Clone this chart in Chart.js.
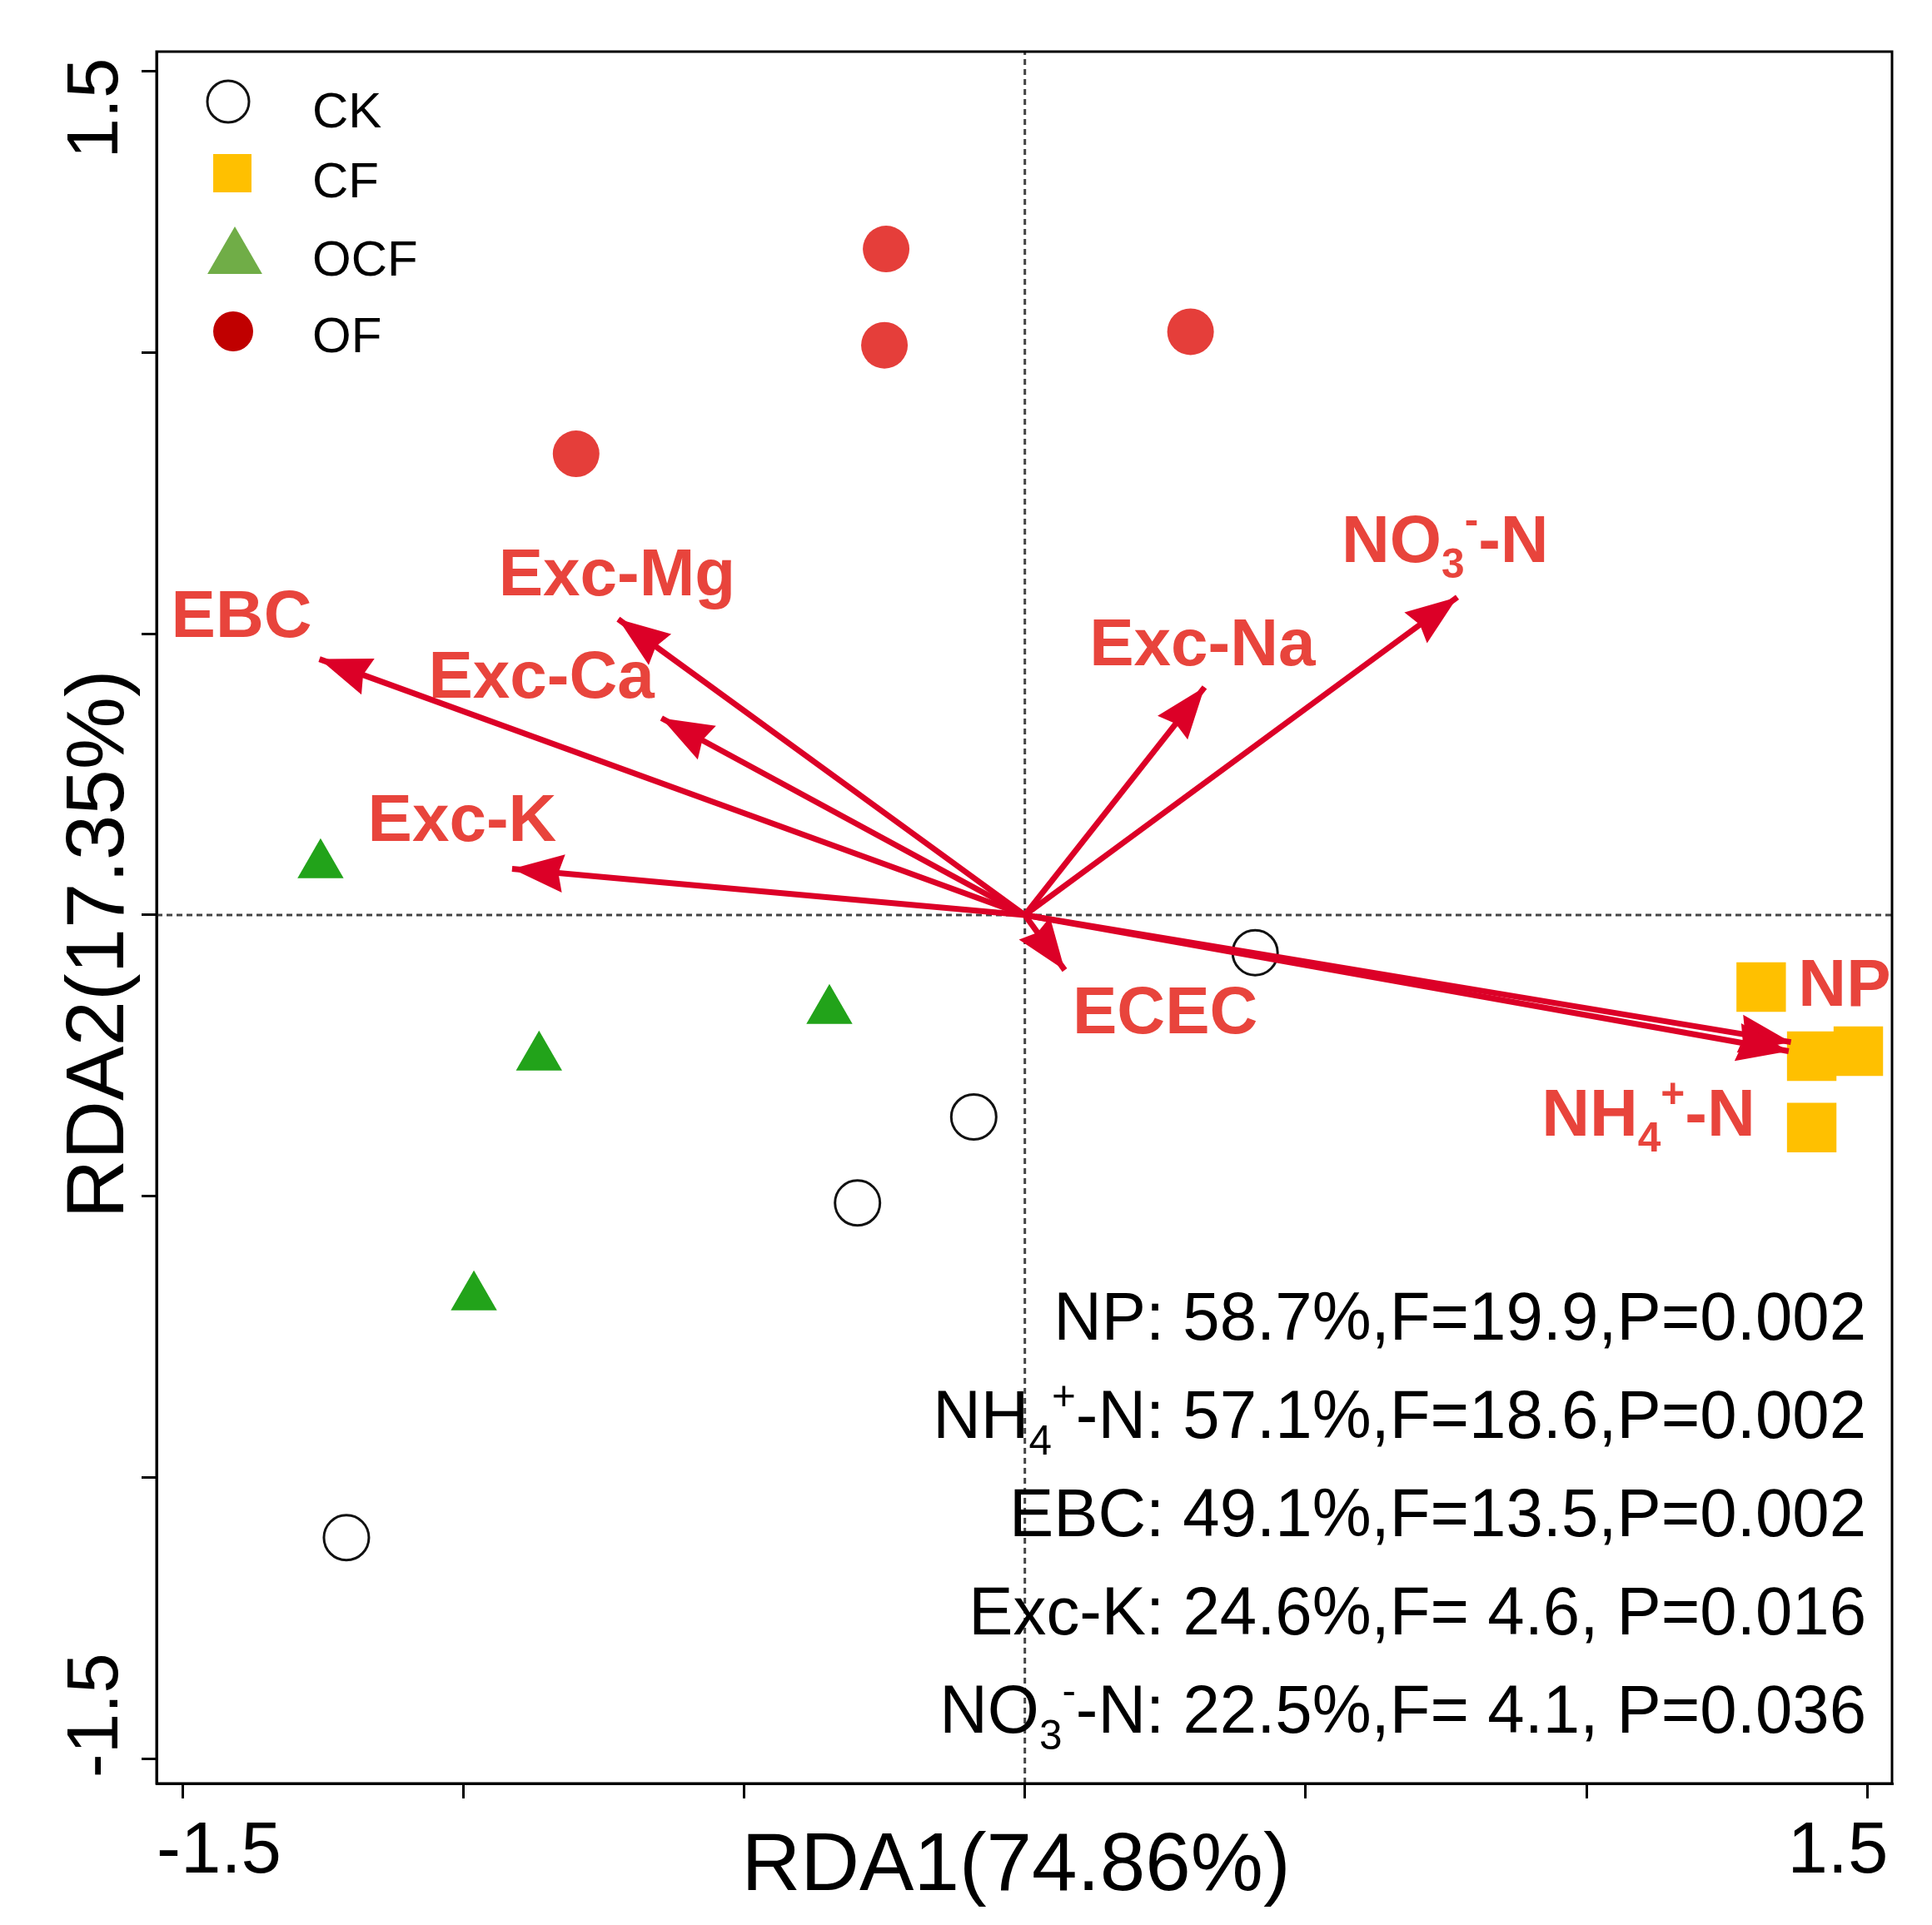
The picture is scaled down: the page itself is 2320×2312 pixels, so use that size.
<!DOCTYPE html>
<html>
<head>
<meta charset="utf-8">
<script src="https://cdn.jsdelivr.net/npm/chart.js@4.4.1/dist/chart.umd.min.js"></script>
<style>
  body { margin: 0; background: #fff; }
  #wrap { width: 2320px; height: 2312px; }
</style>
</head>
<body>
<div id="wrap"><canvas id="rda" width="2320" height="2312"></canvas></div>
<script>
// sample scores (RDA1, RDA2)
const ckX = [0.410, -0.091, -0.298, -1.208];
const ckY = [-0.067, -0.359, -0.512, -1.107];
const cfX = [1.311, 1.401, 1.484, 1.401];
const cfY = [-0.128, -0.251, -0.242, -0.378];
const ocfX = [-1.254, -0.865, -0.348, -0.981];
const ocfY = [0.089, -0.253, -0.170, -0.679];
const ofX = [-0.247, -0.250, 0.295, -0.799];
const ofY = [1.184, 1.013, 1.037, 0.820];

// environmental vectors
const envNames = ['EBC', 'Exc-Mg', 'Exc-Ca', 'Exc-K', 'Exc-Na', 'NO3-N', 'ECEC', 'NP', 'NH4-N'];
const envX = [-1.256, -0.724, -0.647, -0.913, 0.320, 0.770, 0.071, 1.364, 1.360];
const envY = [0.455, 0.526, 0.350, 0.082, 0.405, 0.565, -0.098, -0.226, -0.242];

const axisTicks = [-1.5, -1.0, -0.5, 0, 0.5, 1.0, 1.5];
const xTitle = 'RDA1(74.86%)';
const yTitle = 'RDA2(17.35%)';

// significance table (rows of rich text)
const statRows = [
  ['NP: 58.7%,F=19.9,P=0.002'],
  ['NH', {sub: '4'}, {sup: '+'}, '-N: 57.1%,F=18.6,P=0.002'],
  ['EBC: 49.1%,F=13.5,P=0.002'],
  ['Exc-K: 24.6%,F= 4.6, P=0.016'],
  ['NO', {sub: '3'}, {sup: '-'}, '-N: 22.5%,F= 4.1, P=0.036']
];

const FONT = '"Liberation Sans", Arial, sans-serif';
const ARROW = '#DC0027';
const LABEL = '#E8443C';

// label text for each vector and where it sits (data units, left/baseline)
const envLabels = [
  ['EBC'], ['Exc-Mg'], ['Exc-Ca'], ['Exc-K'], ['Exc-Na'],
  ['NO', {sub: '3'}, {sup: '-'}, '-N'], ['ECEC'], ['NP'],
  ['NH', {sub: '4'}, {sup: '+'}, '-N']
];
const labelAt = [
  [-1.520, 0.495], [-0.937, 0.569], [-1.062, 0.387], [-1.170, 0.131],
  [0.115, 0.444], [0.564, 0.628], [0.085, -0.210], [1.377, -0.161], [0.920, -0.392]
];

const X_MIN = -1.546, X_MAX = 1.544, Y_MIN = -1.544, Y_MAX = 1.535;

function pts(xs, ys) {
  return xs.map((x, i) => ({ x: x, y: ys[i] }));
}

function drawRich(ctx, parts, x, y, size, weight, align, sx) {
  sx = sx || 1;
  const small = size * 0.62;
  const segs = parts.map(p => {
    if (typeof p === 'string') return { t: p, f: size, dy: 0 };
    if (p.sub) return { t: p.sub, f: small, dy: size * 0.24 };
    return { t: p.sup, f: small, dy: -size * 0.42 };
  });
  let w = 0;
  segs.forEach(s => {
    ctx.font = weight + ' ' + s.f + 'px ' + FONT;
    s.w = ctx.measureText(s.t).width;
    w += s.w;
  });
  ctx.save();
  ctx.translate(x, y);
  ctx.scale(sx, 1);
  let cx = align === 'right' ? -w : 0;
  ctx.textAlign = 'left';
  ctx.textBaseline = 'alphabetic';
  segs.forEach(s => {
    ctx.font = weight + ' ' + s.f + 'px ' + FONT;
    ctx.fillText(s.t, cx, s.dy);
    cx += s.w;
  });
  ctx.restore();
}

const nEnv = envNames.length;

const decorPlugin = {
  id: 'decor',
  afterDatasetsDraw(chart) {
    const ctx = chart.ctx;
    // arrow heads at the tip of each vector
    for (let i = 0; i < nEnv; i++) {
      const meta = chart.getDatasetMeta(2 + i);
      const a = meta.data[0], b = meta.data[1];
      const ang = Math.atan2(b.y - a.y, b.x - a.x);
      const len = 62, half = 23;
      ctx.save();
      ctx.translate(b.x, b.y);
      ctx.rotate(ang);
      ctx.beginPath();
      ctx.moveTo(0, 0);
      ctx.lineTo(-len, -half);
      ctx.lineTo(-len * 0.9, 0);
      ctx.lineTo(-len, half);
      ctx.closePath();
      ctx.fillStyle = ARROW;
      ctx.fill();
      ctx.restore();
    }
  },
  afterDraw(chart) {
    const ctx = chart.ctx;
    const xs = chart.scales.x, ys = chart.scales.y;
    const area = chart.chartArea;

    // box
    ctx.save();
    ctx.strokeStyle = '#000';
    ctx.lineWidth = 3;
    ctx.strokeRect(area.left, area.top, area.right - area.left, area.bottom - area.top);
    ctx.restore();

    ctx.fillStyle = '#000';
    // x tick labels (only the ends)
    ctx.font = '87px ' + FONT;
    ctx.textBaseline = 'alphabetic';
    ctx.textAlign = 'left';
    ctx.fillText('-1.5', xs.getPixelForValue(axisTicks[0]) - 31, 2249);
    ctx.textAlign = 'right';
    ctx.fillText('1.5', xs.getPixelForValue(axisTicks[6]) + 25, 2249);

    // y tick labels, rotated
    ctx.save();
    ctx.translate(141, ys.getPixelForValue(axisTicks[6]) - 16);
    ctx.rotate(-Math.PI / 2);
    ctx.textAlign = 'right';
    ctx.fillText('1.5', 0, 0);
    ctx.restore();
    ctx.save();
    ctx.translate(141, ys.getPixelForValue(axisTicks[0]) + 23);
    ctx.rotate(-Math.PI / 2);
    ctx.textAlign = 'left';
    ctx.fillText('-1.5', 0, 0);
    ctx.restore();

    // axis titles
    ctx.font = '98px ' + FONT;
    ctx.textAlign = 'center';
    ctx.fillText(xTitle, 1220, 2270);
    ctx.save();
    ctx.translate(148, 1134);
    ctx.rotate(-Math.PI / 2);
    ctx.fillText(yTitle, 0, 0);
    ctx.restore();

    // legend
    const legendItems = [
      { name: 'CK', style: 'circle', r: 25, fill: 'rgba(0,0,0,0)', stroke: '#111', bw: 3, x: 274, y: 122, ty: 153 },
      { name: 'CF', style: 'rect', r: 32.5, fill: '#FFC000', stroke: '#FFC000', bw: 0, x: 279, y: 208, ty: 237 },
      { name: 'OCF', style: 'triangle', r: 38, fill: '#70AD47', stroke: '#70AD47', bw: 0, x: 282, y: 310, ty: 331 },
      { name: 'OF', style: 'circle', r: 24, fill: '#C00000', stroke: '#C00000', bw: 0, x: 280, y: 398, ty: 423 }
    ];
    legendItems.forEach(it => {
      ctx.save();
      ctx.fillStyle = it.fill;
      ctx.strokeStyle = it.stroke;
      ctx.lineWidth = it.bw;
      Chart.helpers.drawPoint(ctx, { pointStyle: it.style, radius: it.r, rotation: 0, borderWidth: it.bw }, it.x, it.y);
      ctx.restore();
      ctx.fillStyle = '#000';
      ctx.font = '60px ' + FONT;
      ctx.textAlign = 'left';
      ctx.fillText(it.name, 375, it.ty);
    });

    // vector labels
    ctx.fillStyle = LABEL;
    envLabels.forEach((parts, i) => {
      const px = xs.getPixelForValue(labelAt[i][0]);
      const py = ys.getPixelForValue(labelAt[i][1]);
      drawRich(ctx, parts, px, py, 80, 'bold', 'left', 1);
    });

    // significance table
    ctx.fillStyle = '#000';
    statRows.forEach((parts, i) => {
      drawRich(ctx, parts, 2241, 1609 + i * 118, 82, 'normal', 'right', 0.973);
    });
  }
};

const arrowSets = envNames.map((name, i) => ({
  label: name,
  data: [{ x: 0, y: 0 }, { x: envX[i], y: envY[i] }],
  showLine: true,
  borderColor: ARROW,
  borderWidth: 7,
  pointRadius: 0,
  order: 0
}));

const ctx = document.getElementById('rda').getContext('2d');
new Chart(ctx, {
  type: 'scatter',
  data: {
    datasets: [
      { label: 'v0', data: [{ x: 0, y: Y_MIN }, { x: 0, y: Y_MAX }], showLine: true,
        borderColor: '#444', borderWidth: 3, borderDash: [7, 5], pointRadius: 0, order: 5 },
      { label: 'h0', data: [{ x: X_MIN, y: 0 }, { x: X_MAX, y: 0 }], showLine: true,
        borderColor: '#444', borderWidth: 3, borderDash: [7, 5], pointRadius: 0, order: 5 },
      ...arrowSets,
      { label: 'CK', data: pts(ckX, ckY), pointStyle: 'circle', pointRadius: 27,
        borderColor: '#111', borderWidth: 3, backgroundColor: 'rgba(0,0,0,0)', order: 1 },
      { label: 'CF', data: pts(cfX, cfY), pointStyle: 'rect', pointRadius: 42,
        borderWidth: 0, backgroundColor: '#FFC000', order: 1 },
      { label: 'OCF', data: pts(ocfX, ocfY), pointStyle: 'triangle', pointRadius: 32,
        borderWidth: 0, backgroundColor: '#22A31A', order: 1 },
      { label: 'OF', data: pts(ofX, ofY), pointStyle: 'circle', pointRadius: 28,
        borderWidth: 0, backgroundColor: '#E53E3A', order: 1 }
    ]
  },
  options: {
    responsive: false,
    devicePixelRatio: 1,
    animation: false,
    layout: { padding: { left: 170, top: 62, right: 48, bottom: 152 } },
    plugins: { legend: { display: false }, tooltip: { enabled: false } },
    scales: {
      x: {
        type: 'linear', min: X_MIN, max: X_MAX,
        afterBuildTicks: s => { s.ticks = axisTicks.map(v => ({ value: v })); },
        ticks: { display: false },
        grid: { drawOnChartArea: false, drawTicks: true, tickLength: 18, color: '#000', lineWidth: 3 },
        border: { display: true, color: '#000', width: 3 }
      },
      y: {
        type: 'linear', min: Y_MIN, max: Y_MAX,
        afterBuildTicks: s => { s.ticks = axisTicks.map(v => ({ value: v })); },
        ticks: { display: false },
        grid: { drawOnChartArea: false, drawTicks: true, tickLength: 18, color: '#000', lineWidth: 3 },
        border: { display: true, color: '#000', width: 3 }
      }
    }
  },
  plugins: [decorPlugin]
});
</script>
</body>
</html>
